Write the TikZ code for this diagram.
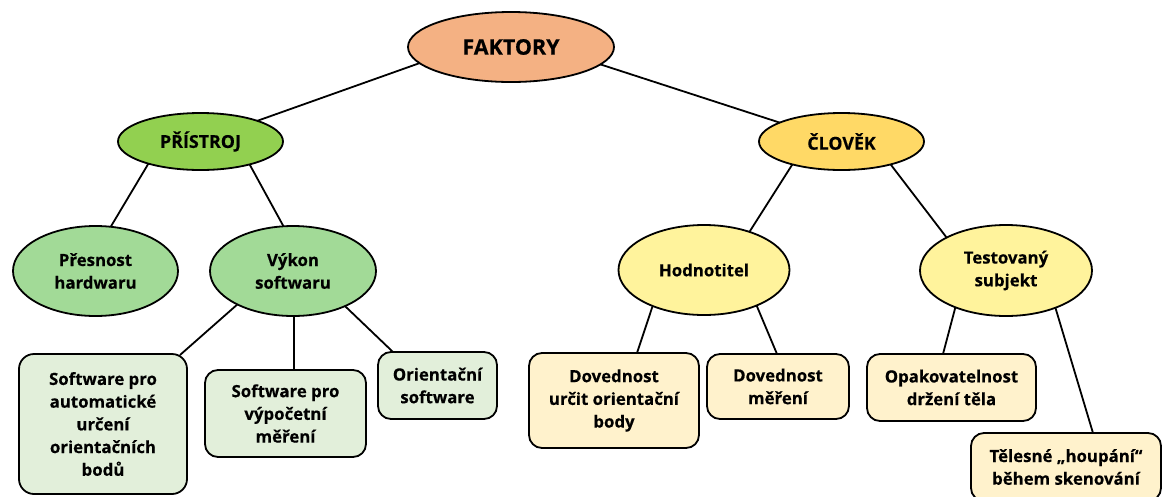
\documentclass[tikz,border=0pt]{standalone}
\usepackage{fontspec}
\setmainfont{Open Sans}[BoldFeatures={FakeBold=0.35}]
\usetikzlibrary{shapes.geometric}
\definecolor{cfak}{HTML}{F4B183}
\definecolor{cpri}{HTML}{92D050}
\definecolor{cclo}{HTML}{FFD966}
\definecolor{cgel}{HTML}{A2DA97}
\definecolor{cyel}{HTML}{FFF39C}
\definecolor{cgbox}{HTML}{E2EFDA}
\definecolor{cybox}{HTML}{FFF2CC}
\tikzset{
  base/.style={draw=black, line width=1.8pt, outer sep=0pt, inner sep=0pt, align=center,
    font=\fontsize{16.8}{22.7}\selectfont\bfseries},
  ell/.style={base, ellipse},
  rbox/.style={base, rectangle, rounded corners=13pt},
  conn/.style={line width=1.8pt, draw=black}
}
\begin{document}
\begin{tikzpicture}[x=1pt,y=-1pt]
\useasboundingbox (0,0) rectangle (1165,496);
% ellipses
\node[ell, fill=cfak, minimum width=206pt, minimum height=70pt, font=\fontsize{21.5}{24}\selectfont\bfseries] (fak) at (511,47) {FAKTORY};
\node[ell, fill=cpri, minimum width=165pt, minimum height=57pt, font=\fontsize{17.8}{22.7}\selectfont\bfseries] (pri) at (200.5,141.5) {PŘÍSTROJ};
\node[ell, fill=cclo, minimum width=165pt, minimum height=57pt, font=\fontsize{17.8}{22.7}\selectfont\bfseries] (clo) at (841.5,141.5) {ČLOVĚK};
\node[ell, fill=cgel, minimum width=165pt, minimum height=90pt] (pre) at (95.5,271) {Přesnost\\hardwaru};
\node[ell, fill=cgel, minimum width=166pt, minimum height=90pt] (vyk) at (293,271) {Výkon\\softwaru};
\node[ell, fill=cyel, minimum width=171pt, minimum height=90pt] (hod) at (704,270) {Hodnotitel};
\node[ell, fill=cyel, minimum width=172pt, minimum height=91pt] (tes) at (1006,270.5) {Testovaný\\subjekt};
% boxes
\node[rbox, fill=cgbox, minimum width=168pt, minimum height=140pt, rounded corners=15pt] (b1) at (103,424) {Software pro\\automatické\\určení\\orientačních\\bodů};
\node[rbox, fill=cgbox, minimum width=161pt, minimum height=87pt] (b2) at (285.5,413.5) {Software pro\\výpočetní\\měření};
\node[rbox, fill=cgbox, minimum width=119pt, minimum height=67pt] (b3) at (437.5,385.5) {Orientační\\software};
\node[rbox, fill=cybox, minimum width=170pt, minimum height=95pt] (b4) at (614,400.5) {Dovednost\\určit orientační\\body};
\node[rbox, fill=cybox, minimum width=142pt, minimum height=65pt] (b5) at (778,386.5) {Dovednost\\měření};
\node[rbox, fill=cybox, minimum width=169pt, minimum height=67pt] (b6) at (951.5,387.5) {Opakovatelnost\\držení těla};
\node[rbox, fill=cybox, minimum width=190pt, minimum height=68pt] (b7) at (1066,467) {Tělesné „houpání“\\během skenování};
% connectors
\draw[conn] (fak.190) -- (pri.20.6);
\draw[conn] (fak.349.6) -- (clo.163.7);
\draw[conn] (pri.203.7) -- (pre.71.4);
\draw[conn] (pri.335.3) -- (vyk.102);
\draw[conn] (clo.205) -- (hod.40.3);
\draw[conn] (clo.335.9) -- (tes.151.2);
\draw[conn] (vyk.211) -- ([xshift=-7pt,yshift=-1pt]b1.north east);
\draw[conn] ([xshift=1pt]vyk.south) -- ([xshift=1pt]vyk.south |- b2.north);
\draw[conn] (vyk.326.8) -- ([xshift=15pt]b3.north west);
\draw[conn] (hod.215.6) -- ([xshift=23pt]b4.north);
\draw[conn] (hod.326.5) -- ([xshift=-1pt]b5.north);
\draw[conn] (tes.216.5) -- ([xshift=-8.5pt]b6.north);
\draw[conn] (tes.323.8) -- ([xshift=27pt]b7.north);
\end{tikzpicture}
\end{document}
